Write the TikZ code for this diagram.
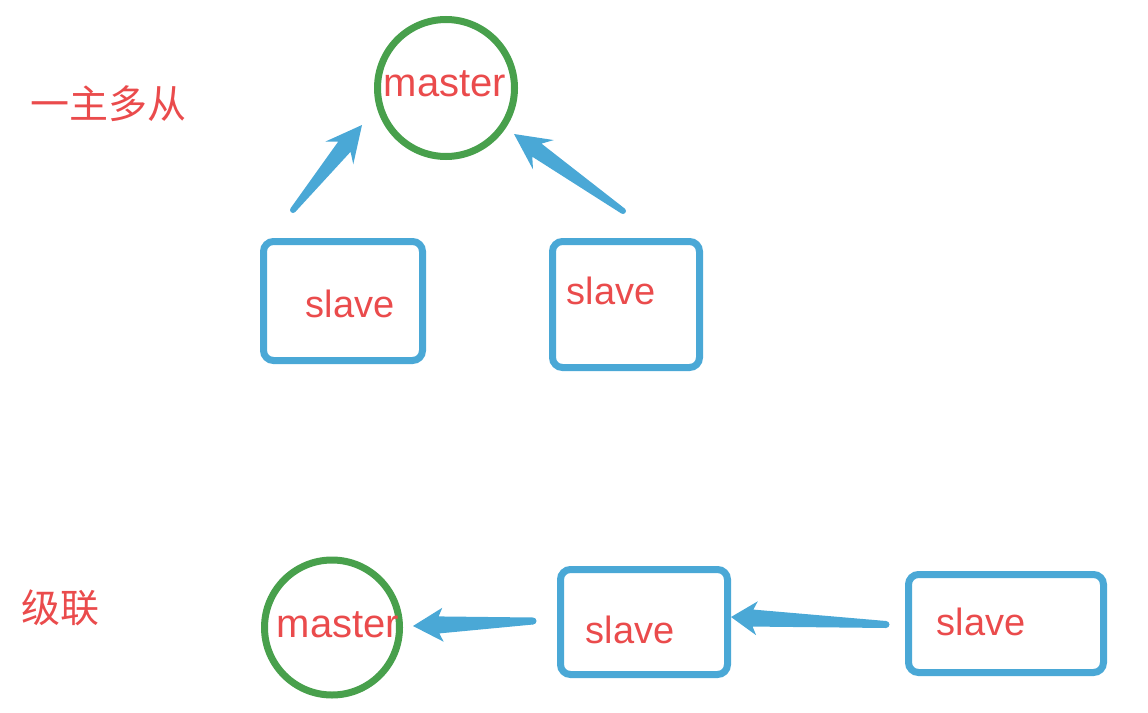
\documentclass[tikz,border=0pt]{standalone}
\usepackage{fontspec}
\setmainfont{Liberation Sans}
\newfontfamily\cjk{Noto Sans CJK SC}
\usetikzlibrary{calc}
\definecolor{arrowblue}{HTML}{4AA8D6}
\definecolor{ringgreen}{HTML}{48A04C}
\definecolor{txtred}{HTML}{EA4B4C}
\tikzset{
  ring/.style={circle, draw=ringgreen, line width=7pt, inner sep=0pt},
  slavebox/.style={rectangle, rounded corners=10pt, draw=arrowblue, line width=7pt, inner sep=0pt},
  lbl/.style={text=txtred, font=\fontsize{38}{40}\selectfont, inner sep=0pt, anchor=center},
  mlbl/.style={text=txtred, font=\fontsize{40}{42}\selectfont, inner sep=0pt, anchor=center},
  cjklbl/.style={text=txtred, font=\cjk\fontsize{39}{41}\selectfont, inner sep=0pt, anchor=center},
}
% #1 tip, #2 tail, #3 head length, #4 barb half width, #5 notch dist, #6 shaft half width at head, #7 tail half width
\newcommand{\taperarrow}[7]{%
  \fill[arrowblue]
    (#1)
    -- ($(#1)!#3!(#2)!#4!90:(#2)$)
    -- ($(#1)!#5!(#2)!#6!90:(#2)$)
    -- ($(#2)!#7!-90:(#1)$)
    -- ($(#2)!#7!90:(#1)$)
    -- ($(#1)!#5!(#2)!#6!-90:(#2)$)
    -- ($(#1)!#3!(#2)!#4!-90:(#2)$)
    -- cycle;
  \fill[arrowblue] (#2) circle (#7);
}
\begin{document}
\begin{tikzpicture}[x=1pt,y=-1pt]
\useasboundingbox (0,0) rectangle (1148,712);
% labels
\node[cjklbl] (t1) at (108,104) {一主多从};
\node[cjklbl] (t2) at (60,608) {级联};
% top group
\node[ring, minimum size=137pt] (m1) at (446,88) {};
\node[mlbl] (m1t) at (445,84) {master};
\node[slavebox, minimum width=159pt, minimum height=119pt] (s1) at (343,301) {};
\node[lbl] (s1t) at (350,304) {slave};
\node[slavebox, minimum width=147pt, minimum height=126pt] (s2) at (626,304.5) {};
\node[lbl] (s2t) at (611,291) {slave};
% bottom group
\node[ring, minimum size=135pt] (m2) at (332,627.5) {};
\node[mlbl] (m2t) at (338,625) {master};
\node[slavebox, minimum width=167pt, minimum height=105pt] (s3) at (644,622) {};
\node[lbl] (s3t) at (630,630) {slave};
\node[slavebox, minimum width=195pt, minimum height=98pt] (s4) at (1006,623.5) {};
\node[lbl] (s4t) at (981,622) {slave};
% arrow endpoints
\coordinate (a1tip) at (362,125);
\coordinate (a1tail) at (293,210);
\coordinate (a2tip) at (514,134);
\coordinate (a2tail) at (623,211);
\coordinate (a3tip) at (413,626);
\coordinate (a3tail) at (533,621);
\coordinate (a4tip) at (731,617);
\coordinate (a4tail) at (886,624.5);
\taperarrow{a1tip}{a1tail}{36pt}{18pt}{28pt}{8pt}{3pt}
\taperarrow{a2tip}{a2tail}{36pt}{18pt}{28pt}{8pt}{3pt}
\taperarrow{a3tip}{a3tail}{30pt}{17pt}{26pt}{8.5pt}{3.5pt}
\taperarrow{a4tip}{a4tail}{26pt}{17pt}{22pt}{8.5pt}{3.5pt}
\end{tikzpicture}
\end{document}
